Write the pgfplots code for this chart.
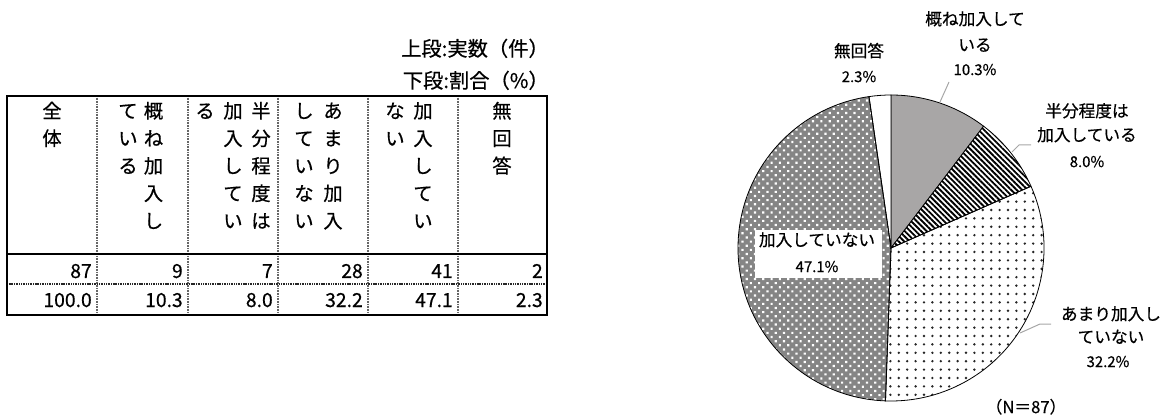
\documentclass[border=0pt]{standalone}
\usepackage{pgfplots}
\pgfplotsset{compat=1.18}
\usetikzlibrary{patterns.meta}
\usepackage{fontspec}
\setmainfont{Noto Sans CJK JP}[FakeBold=0.5]
\definecolor{wedgegray}{HTML}{A8A6A6}
\definecolor{leader}{HTML}{A6A6A6}
\tikzset{
  hdr/.style={font=\fontsize{14.5}{17}\selectfont, inner sep=0pt, text height=.88em, text depth=.12em, anchor=center},
  ttl/.style={font=\fontsize{15.2}{17}\selectfont, inner sep=0pt, text height=.88em, text depth=.12em, anchor=east},
  num/.style={font=\fontsize{14.5}{17}\selectfont, inner sep=0pt, anchor=base east},
  lbl/.style={font=\fontsize{12.5}{15}\selectfont, inner sep=0pt, text height=.88em, text depth=.12em, anchor=center},
  pct/.style={font=\fontsize{11.2}{13}\selectfont, inner sep=0pt, text height=.88em, text depth=.12em, anchor=center},
  vsep/.style={black!60, line width=1.3pt, dash pattern=on 0.7pt off 0.5pt},
}
% pie data: counts, N = 87
\newcommand\pieslice[3]{%
  \path[#3] (axis cs:891,248) -- ++({90-#1/87*360}:114.75pt)
    arc[start angle={90-#1/87*360}, end angle={90-(#1+#2)/87*360}, radius=114.75pt] -- cycle;}
\newcommand\vc[3]{\node[hdr] at (axis cs:#1,{113+27.5*(#2-1)}) {#3};}
\newcommand\vsepline[1]{\draw[vsep] (axis cs:#1,96) -- (axis cs:#1,315);}
\begin{document}
\begin{tikzpicture}
\begin{axis}[
  scale only axis, width=875.25pt, height=315pt,
  xmin=0, xmax=1167, ymin=0, ymax=420, y dir=reverse,
  hide axis, clip=false,
]
\path (axis cs:0,0) rectangle (axis cs:1167,420);
% ---------- table ----------
\node[ttl] at (axis cs:549,51) {上段:実数（件）};
\node[ttl] at (axis cs:549,83) {下段:割合（\%）};
\vsepline{97}\vsepline{188}\vsepline{278}\vsepline{368}\vsepline{458}
\draw[black!85, line width=1pt, dash pattern=on 0.8pt off 0.5pt] (axis cs:7,284) -- (axis cs:547,284);
\draw[black, line width=1.5pt] (axis cs:7,254) -- (axis cs:547,254);
\draw[black, line width=1.5pt] (axis cs:7,96) rectangle (axis cs:547,315);
% header characters (vertical writing)
\vc{52}{1}{全}\vc{52}{2}{体}
\vc{128}{1}{て}\vc{128}{2}{い}\vc{128}{3}{る}
\vc{153.5}{1}{概}\vc{153.5}{2}{ね}\vc{153.5}{3}{加}\vc{153.5}{4}{入}\vc{153.5}{5}{し}
\vc{205}{1}{る}
\vc{233}{1}{加}\vc{233}{2}{入}\vc{233}{3}{し}\vc{233}{4}{て}\vc{233}{5}{い}
\vc{261}{1}{半}\vc{261}{2}{分}\vc{261}{3}{程}\vc{261}{4}{度}\vc{261}{5}{は}
\vc{304}{1}{し}\vc{304}{2}{て}\vc{304}{3}{い}\vc{304}{4}{な}\vc{304}{5}{い}
\vc{333}{1}{あ}\vc{333}{2}{ま}\vc{333}{3}{り}\vc{333}{4}{加}\vc{333}{5}{入}
\vc{395}{1}{な}\vc{395}{2}{い}
\vc{423}{1}{加}\vc{423}{2}{入}\vc{423}{3}{し}\vc{423}{4}{て}\vc{423}{5}{い}
\vc{502}{1}{無}\vc{502}{2}{回}\vc{502}{3}{答}
% numbers
\node[num] at (axis cs:92,278) {87};
\node[num] at (axis cs:183,278) {9};
\node[num] at (axis cs:273,278) {7};
\node[num] at (axis cs:363,278) {28};
\node[num] at (axis cs:453,278) {41};
\node[num] at (axis cs:543,278) {2};
\node[num] at (axis cs:92,307) {100.0};
\node[num] at (axis cs:183,307) {10.3};
\node[num] at (axis cs:273,307) {8.0};
\node[num] at (axis cs:363,307) {32.2};
\node[num] at (axis cs:453,307) {47.1};
\node[num] at (axis cs:543,307) {2.3};
% ---------- pie ----------
\pieslice{0}{9}{fill=wedgegray, draw=black, line width=0.6pt}
\pieslice{9}{7}{fill=white, postaction={pattern={Lines[angle=-45, distance=2.9pt, line width=1.4pt]}, pattern color=black}}
\pieslice{16}{28}{fill=white, postaction={pattern={Dots[distance=6.3pt, radius=1pt]}, pattern color=black!85}}
\pieslice{44}{41}{fill=black!48, postaction={pattern={Dots[angle=45, distance=4.4pt, radius=1.15pt]}, pattern color=white}}
\pieslice{85}{2}{fill=white}
\pieslice{9}{7}{draw=black, line width=0.6pt}
\pieslice{16}{28}{draw=black, line width=0.6pt}
\pieslice{44}{41}{draw=black, line width=0.6pt}
\pieslice{85}{2}{draw=black, line width=0.6pt}
% leader lines
\draw[leader, line width=0.75pt] (axis cs:949,82) -- (axis cs:940,102);
\draw[leader, line width=0.75pt] (axis cs:1031,145) -- (axis cs:1019,145) -- (axis cs:1012,152);
\draw[leader, line width=0.75pt] (axis cs:1051,324) -- (axis cs:1040,324) -- (axis cs:1020,333);
% labels
\node[lbl] at (axis cs:975,20) {概ね加入して};
\node[lbl] at (axis cs:975,46) {いる};
\node[pct] at (axis cs:975,70) {10.3\%};
\node[lbl] at (axis cs:859,52) {無回答};
\node[pct] at (axis cs:859,77) {2.3\%};
\node[lbl] at (axis cs:1087,112) {半分程度は};
\node[lbl] at (axis cs:1087,136) {加入している};
\node[pct] at (axis cs:1087,162) {8.0\%};
\fill[white] (axis cs:755,230) rectangle (axis cs:882,278);
\node[lbl] at (axis cs:817,241) {加入していない};
\node[pct] at (axis cs:817,267) {47.1\%};
\node[lbl] at (axis cs:1111,315) {あまり加入し};
\node[lbl] at (axis cs:1111,338) {ていない};
\node[pct] at (axis cs:1108,362) {32.2\%};
\node[lbl] at (axis cs:1026,408) {（N＝87）};
\end{axis}
\end{tikzpicture}
\end{document}
